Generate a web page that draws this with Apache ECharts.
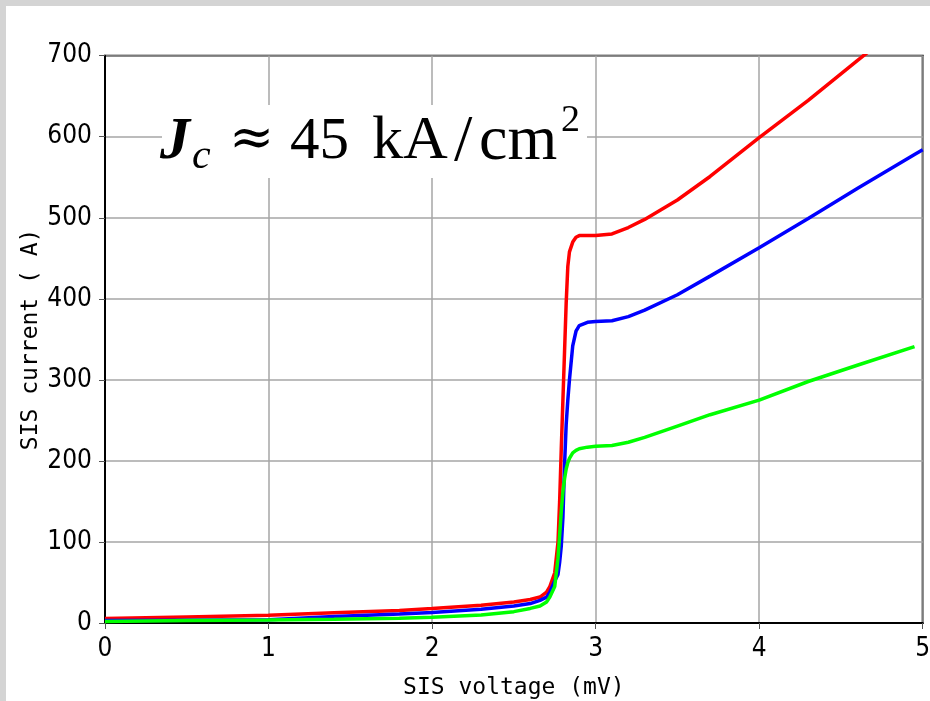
<!DOCTYPE html>
<html lang="en">

<head>
    <meta charset="UTF-8">
    <title>SIS IV curve</title>
    <script src="https://cdn.jsdelivr.net/npm/echarts@6.0.0/dist/echarts.min.js"></script>
    <style>
        html, body { margin: 0; padding: 0; background: #d4d4d4; }
        #main { position: absolute; left: 6px; top: 6px; width: 924px; height: 695px; background: #fff; }
    </style>
    <script>
        // SIS voltage (mV), shared by the three curves
        var volts = [0, 0.5, 1, 1.4, 1.8, 2, 2.3, 2.5, 2.6, 2.66, 2.7, 2.72, 2.75, 2.77, 2.78, 2.79, 2.8, 2.81, 2.82,
            2.83, 2.84, 2.86, 2.88, 2.9, 2.95, 3, 3.1, 3.2, 3.3, 3.5, 3.7, 4, 4.3, 4.6, 4.95, 5];
        // SIS current
        var redCurrent = [5.5, 7.5, 9.5, 12.5, 15.5, 18, 22, 26, 29, 32, 38, 45, 62, 100, 150, 215, 275, 335, 395,
            440, 458, 470, 476, 478, 478, 478, 480, 488, 498, 522, 551, 599, 645, 694, 750, 757];
        var blueCurrent = [3, 3.5, 4, 8, 11, 13, 17, 21, 24, 28, 32, 38, 52, 60, 75, 95, 130, 195, 245,
            275, 300, 342, 360, 367, 371, 372, 373, 378, 386, 405, 428, 463, 499, 536, 578, 584];
        var greenCurrent = [2, 3, 3.7, 4.5, 6, 7, 10, 14, 18, 21, 26, 32, 45, 80, 108, 138, 162, 178, 190,
            198, 203, 210, 213, 215, 217, 218, 219, 223, 229, 243, 257, 275, 298, 318, 341, null];

        var xTicks = ['0', '1', '2', '3', '4', '5'];
        var yTicks = ['0', '100', '200', '300', '400', '500', '600', '700'];

        function pairs(ys) {
            var out = [];
            for (var i = 0; i < volts.length; i++) {
                if (ys[i] !== null) out.push([volts[i], ys[i]]);
            }
            return out;
        }

        window.onload = function () {
            var mychart = echarts.init(document.getElementById('main'));

            var tickFont = "'Liberation Sans Narrow', 'DejaVu Sans Condensed', sans-serif";
            var nameFont = "'DejaVu Sans Mono', monospace";
            var serif = "'Liberation Serif', 'DejaVu Serif', serif";

            var lineSeries = function (name, color, ys) {
                return {
                    name: name,
                    type: 'line',
                    data: pairs(ys),
                    showSymbol: false,
                    clip: true,
                    lineStyle: { color: color, width: 3.5 },
                    itemStyle: { color: color }
                };
            };

            var option = {
                animation: false,
                backgroundColor: '#fff',
                grid: {
                    left: 99, right: 7.3, top: 49.7, bottom: 78,
                    show: true, borderColor: '#000', borderWidth: 2,
                    containLabel: false, outerBoundsMode: 'none'
                },
                xAxis: {
                    type: 'value', min: 0, max: 5, interval: 1,
                    name: 'SIS voltage (mV)', nameLocation: 'middle', nameGap: 54, nameMoveOverlap: false,
                    nameTextStyle: { color: '#000', fontFamily: nameFont, fontSize: 23 },
                    axisLine: { lineStyle: { color: '#000', width: 2 } },
                    axisTick: { show: true, length: 6, lineStyle: { color: '#555' } },
                    axisLabel: {
                        color: '#000', fontFamily: tickFont, fontSize: 26, margin: 13,
                        formatter: function (v) { return xTicks[Math.round(v)]; }
                    },
                    splitLine: { show: true, lineStyle: { color: '#a6a6a6', width: 1.5 } }
                },
                yAxis: {
                    type: 'value', min: 0, max: 700, interval: 100,
                    name: 'SIS current ( A)', nameLocation: 'middle', nameGap: 62, nameMoveOverlap: false,
                    nameTextStyle: { color: '#000', fontFamily: nameFont, fontSize: 23 },
                    axisLine: { lineStyle: { color: '#000', width: 2 } },
                    axisTick: { show: true, length: 6, lineStyle: { color: '#555' } },
                    axisLabel: {
                        color: '#000', fontFamily: tickFont, fontSize: 26, margin: 13,
                        formatter: function (v) { return yTicks[Math.round(v / 100)]; }
                    },
                    splitLine: { show: true, lineStyle: { color: '#a6a6a6', width: 1.5 } }
                },
                graphic: [
                    { type: 'rect', z: 100, shape: { x: 156, y: 99, width: 425, height: 73 }, style: { fill: '#fff' } },
                    { type: 'text', z: 101, x: 154, y: 136, style: { text: 'J', font: 'italic bold 60px ' + serif, fill: '#000', verticalAlign: 'middle' } },
                    { type: 'text', z: 101, x: 186, y: 151, style: { text: 'c', font: 'italic 42px ' + serif, fill: '#000', verticalAlign: 'middle' } },
                    { type: 'text', z: 101, x: 223, y: 135, style: { text: '\u2248', font: '54px ' + "'DejaVu Serif', serif", fill: '#000', verticalAlign: 'middle' } },
                    { type: 'text', z: 101, x: 284, y: 136, style: { text: '45', font: '59px ' + serif, fill: '#000', verticalAlign: 'middle' } },
                    { type: 'text', z: 101, x: 366, y: 136, style: { text: 'kA', font: '62px ' + serif, fill: '#000', verticalAlign: 'middle' } },
                    { type: 'text', z: 101, x: 448, y: 137, style: { text: '/', font: '66px ' + serif, fill: '#000', verticalAlign: 'middle' } },
                    { type: 'text', z: 101, x: 473, y: 136, style: { text: 'cm', font: '64px ' + serif, fill: '#000', verticalAlign: 'middle' } },
                    { type: 'text', z: 101, x: 555, y: 115, style: { text: '2', font: '38px ' + serif, fill: '#000', verticalAlign: 'middle' } }
                ],
                series: [
                    lineSeries('red', '#ff0000', redCurrent),
                    lineSeries('blue', '#0000ff', blueCurrent),
                    lineSeries('green', '#00ff00', greenCurrent)
                ]
            };
            mychart.setOption(option);
        }
    </script>
</head>

<body>
    <div id="main"></div>
</body>

</html>
